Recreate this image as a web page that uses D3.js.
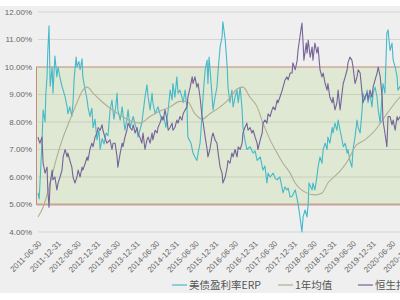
<!DOCTYPE html>
<html>
<head>
<meta charset="utf-8">
<script src="https://cdn.jsdelivr.net/npm/d3@7"></script>
<style>
  body { margin: 0; background: #fff; }
  svg { display: block; }
</style>
</head>
<body>
<div id="chart"></div>
<script>
// values: [decimal year, percent]
const erpSeries = [
  [2011.50,5.42],[2011.53,5.2],[2011.55,5.78],[2011.60,7.2],[2011.63,8.44],[2011.68,8.0],[2011.70,9.05],[2011.73,9.64],[2011.75,10.6],[2011.78,11.5],
  [2011.81,9.3],[2011.86,10.0],[2011.88,9.05],[2011.93,10.4],[2011.98,9.64],[2012.01,10.0],[2012.06,9.6],[2012.11,9.3],[2012.14,9.16],[2012.19,8.9],
  [2012.24,8.55],[2012.26,8.3],[2012.31,8.55],[2012.36,8.2],[2012.39,8.7],[2012.42,9.6],[2012.47,10.36],[2012.49,10.0],[2012.54,10.2],[2012.57,9.9],
  [2012.62,10.3],[2012.64,9.64],[2012.70,9.16],[2012.75,8.8],[2012.77,8.55],[2012.82,8.2],[2012.87,8.5],[2012.90,7.8],[2012.95,8.1],[2013.00,7.35],
  [2013.05,7.7],[2013.08,7.0],[2013.13,7.4],[2013.18,7.2],[2013.23,7.6],[2013.28,7.5],[2013.33,8.4],[2013.38,8.8],[2013.43,8.1],[2013.48,8.6],
  [2013.51,9.05],[2013.53,8.44],[2013.59,8.07],[2013.64,8.55],[2013.66,8.3],[2013.71,7.7],[2013.76,8.1],[2013.79,8.44],[2013.84,7.8],[2013.92,8.2],
  [2013.97,7.9],[2014.02,7.7],[2014.04,7.45],[2014.09,7.7],[2014.14,7.96],[2014.22,8.9],[2014.27,9.35],[2014.30,8.9],[2014.35,8.44],[2014.40,9.05],
  [2014.42,8.7],[2014.48,8.3],[2014.55,8.55],[2014.60,8.3],[2014.65,8.07],[2014.70,8.2],[2014.75,7.8],[2014.81,8.44],[2014.86,9.16],[2014.91,8.8],
  [2014.93,9.4],[2014.98,8.9],[2015.03,9.64],[2015.06,9.05],[2015.11,9.16],[2015.16,8.9],[2015.19,8.7],[2015.24,9.16],[2015.29,8.44],[2015.31,7.45],
  [2015.39,7.23],[2015.44,6.87],[2015.49,6.73],[2015.54,6.6],[2015.57,6.87],[2015.62,7.23],[2015.64,7.6],[2015.67,8.3],[2015.70,9.0],[2015.75,9.9],
  [2015.80,10.25],[2015.82,9.4],[2015.85,10.36],[2015.92,9.05],[2015.95,8.44],[2016.00,8.9],[2016.05,9.27],[2016.08,9.9],[2016.13,10.73],[2016.18,11.1],
  [2016.20,11.64],[2016.26,10.98],[2016.31,10.0],[2016.33,9.27],[2016.38,8.7],[2016.43,9.16],[2016.46,8.55],[2016.51,8.9],[2016.56,9.16],[2016.59,8.7],
  [2016.64,9.27],[2016.69,8.44],[2016.71,7.8],[2016.76,7.35],[2016.81,7.0],[2016.89,7.1],[2016.97,6.87],[2017.02,6.95],[2017.07,6.6],[2017.15,6.73],
  [2017.22,6.25],[2017.27,6.4],[2017.32,5.78],[2017.35,6.14],[2017.40,6.0],[2017.48,6.14],[2017.53,5.95],[2017.58,5.9],[2017.65,6.0],[2017.73,5.42],
  [2017.78,5.64],[2017.83,5.53],[2017.86,5.6],[2017.91,5.27],[2017.96,5.3],[2018.04,5.53],[2018.11,5.05],[2018.16,4.55],[2018.21,4.0],[2018.24,4.55],
  [2018.29,4.8],[2018.34,4.55],[2018.37,5.05],[2018.39,5.78],[2018.47,5.53],[2018.49,5.78],[2018.54,5.53],[2018.59,6.0],[2018.62,6.36],[2018.67,6.73],
  [2018.72,6.5],[2018.75,7.0],[2018.80,7.23],[2018.85,7.0],[2018.87,7.45],[2018.92,7.23],[2018.98,7.8],[2019.00,7.6],[2019.05,7.96],[2019.10,7.7],
  [2019.13,8.07],[2019.18,7.7],[2019.23,7.35],[2019.26,7.1],[2019.31,7.23],[2019.36,6.87],[2019.38,7.0],[2019.43,6.6],[2019.48,6.36],[2019.51,7.0],
  [2019.56,7.45],[2019.61,8.07],[2019.64,7.8],[2019.69,7.6],[2019.74,8.44],[2019.76,9.05],[2019.81,8.8],[2019.87,9.16],[2019.89,8.7],[2019.94,9.05],
  [2019.99,8.55],[2020.02,9.05],[2020.07,9.27],[2020.12,8.9],[2020.15,8.44],[2020.20,7.96],[2020.25,9.05],[2020.27,9.4],[2020.32,9.05],[2020.37,11.24],
  [2020.40,11.35],[2020.45,10.6],[2020.50,10.87],[2020.53,10.25],[2020.58,10.0],[2020.63,9.64],[2020.65,9.16],[2020.71,9.3],[2020.76,9.0]
];

const hsiSeries = [
  [2011.50,7.45],[2011.53,7.3],[2011.55,7.23],[2011.60,7.45],[2011.63,6.5],[2011.68,6.14],[2011.73,6.36],[2011.75,5.53],[2011.78,4.9],[2011.81,5.78],
  [2011.86,6.25],[2011.88,5.9],[2011.93,6.0],[2011.98,5.53],[2012.01,5.78],[2012.06,6.0],[2012.11,6.25],[2012.14,6.73],[2012.19,7.0],[2012.24,6.73],
  [2012.26,6.87],[2012.31,6.6],[2012.36,6.36],[2012.39,6.0],[2012.44,5.78],[2012.49,6.0],[2012.52,6.25],[2012.57,6.0],[2012.62,6.36],[2012.64,6.25],
  [2012.70,6.5],[2012.75,6.73],[2012.77,6.6],[2012.82,7.0],[2012.87,7.23],[2012.90,7.1],[2012.95,7.45],[2013.00,7.6],[2013.03,7.8],[2013.08,7.7],
  [2013.13,7.9],[2013.15,7.7],[2013.20,7.45],[2013.25,7.23],[2013.33,7.35],[2013.38,7.0],[2013.41,7.23],[2013.46,7.23],[2013.51,6.73],[2013.53,6.36],
  [2013.59,6.87],[2013.64,7.23],[2013.66,7.1],[2013.71,7.45],[2013.76,7.7],[2013.79,7.96],[2013.84,7.8],[2013.89,7.7],[2013.92,7.9],[2013.97,7.6],
  [2014.02,7.8],[2014.04,7.6],[2014.09,7.45],[2014.14,7.23],[2014.17,7.6],[2014.22,7.0],[2014.27,7.35],[2014.30,7.45],[2014.35,7.23],[2014.40,7.6],
  [2014.42,7.35],[2014.48,7.7],[2014.53,7.6],[2014.55,7.8],[2014.60,7.96],[2014.65,8.2],[2014.68,8.07],[2014.73,8.44],[2014.78,8.07],[2014.81,7.7],
  [2014.86,7.8],[2014.91,7.96],[2014.93,7.7],[2014.98,7.8],[2015.03,8.07],[2015.06,7.96],[2015.11,8.2],[2015.16,8.07],[2015.19,8.3],[2015.24,8.44],
  [2015.29,8.55],[2015.31,8.9],[2015.37,9.27],[2015.42,9.64],[2015.44,9.4],[2015.49,9.64],[2015.54,9.27],[2015.57,9.4],[2015.62,8.9],[2015.67,8.2],
  [2015.70,7.96],[2015.75,7.45],[2015.80,7.0],[2015.82,6.73],[2015.87,7.0],[2015.92,7.45],[2015.95,7.6],[2016.00,7.35],[2016.05,7.23],[2016.08,6.87],
  [2016.13,6.36],[2016.18,6.14],[2016.20,5.78],[2016.26,6.0],[2016.31,6.36],[2016.33,6.6],[2016.38,6.5],[2016.43,6.87],[2016.46,6.73],[2016.51,7.0],
  [2016.56,6.73],[2016.59,7.1],[2016.64,7.0],[2016.69,7.23],[2016.71,7.6],[2016.76,7.8],[2016.81,7.96],[2016.84,7.7],[2016.89,7.8],[2016.94,7.6],
  [2016.97,7.7],[2017.02,7.45],[2017.07,7.23],[2017.09,7.0],[2017.15,7.35],[2017.20,7.6],[2017.22,7.96],[2017.27,8.07],[2017.32,7.96],[2017.35,8.3],
  [2017.40,8.2],[2017.45,8.44],[2017.48,8.55],[2017.53,8.44],[2017.58,8.8],[2017.60,8.7],[2017.65,8.9],[2017.71,9.16],[2017.73,9.27],[2017.78,9.53],
  [2017.83,9.64],[2017.86,9.53],[2017.91,9.78],[2017.96,9.78],[2017.98,10.15],[2018.04,9.9],[2018.09,10.25],[2018.11,10.6],[2018.16,11.1],[2018.21,11.6],
  [2018.24,10.87],[2018.26,10.25],[2018.32,10.87],[2018.34,10.5],[2018.37,10.98],[2018.42,10.36],[2018.47,10.73],[2018.49,10.25],[2018.54,10.87],[2018.59,10.5],
  [2018.62,10.73],[2018.67,9.9],[2018.72,9.64],[2018.75,9.78],[2018.80,9.4],[2018.85,9.16],[2018.87,9.4],[2018.92,8.9],[2018.98,8.7],[2019.00,8.9],
  [2019.05,8.44],[2019.10,8.7],[2019.13,9.16],[2019.18,8.44],[2019.23,9.05],[2019.26,9.4],[2019.31,9.64],[2019.36,9.9],[2019.38,10.15],[2019.43,10.36],
  [2019.48,10.25],[2019.51,10.0],[2019.56,9.4],[2019.61,9.64],[2019.64,9.9],[2019.69,9.78],[2019.74,9.05],[2019.76,8.7],[2019.81,8.9],[2019.87,9.05],
  [2019.89,8.8],[2019.94,9.16],[2019.99,8.9],[2020.02,9.27],[2020.07,9.53],[2020.12,9.78],[2020.15,10.0],[2020.20,9.64],[2020.25,8.9],[2020.27,8.07],
  [2020.32,7.6],[2020.37,7.1],[2020.40,8.2],[2020.45,8.2],[2020.50,7.9],[2020.53,8.07],[2020.58,7.7],[2020.63,8.2],[2020.65,8.07],[2020.71,8.2],[2020.76,8.1]
];

const meanSeries = [
  [2011.50,4.55],[2011.63,4.9],[2011.81,5.78],[2011.98,6.73],[2012.14,7.45],[2012.31,8.07],[2012.49,8.7],[2012.64,9.16],[2012.75,9.27],[2012.90,9.05],
  [2013.08,8.8],[2013.33,8.5],[2013.59,8.25],[2013.92,8.0],[2014.09,7.96],[2014.35,8.2],[2014.60,8.4],[2014.86,8.55],[2015.11,8.75],[2015.29,8.75],
  [2015.49,8.3],[2015.67,8.1],[2015.87,8.3],[2016.13,8.55],[2016.38,8.87],[2016.56,9.2],[2016.71,9.27],[2016.89,8.9],[2017.07,8.55],[2017.22,7.96],
  [2017.40,7.35],[2017.58,6.87],[2017.73,6.5],[2017.91,6.14],[2018.04,5.78],[2018.29,5.45],[2018.54,5.35],[2018.72,5.42],[2018.87,5.78],[2019.13,6.14],
  [2019.38,6.6],[2019.56,7.1],[2019.81,7.35],[2020.07,7.7],[2020.32,8.2],[2020.58,8.7],[2020.76,9.0]
];

const band = [5, 10];
const yTicks = [4, 5, 6, 7, 8, 9, 10, 11, 12];
const xTickLabels = [
  "2011-06-30","2011-12-31","2012-06-30","2012-12-31","2013-06-30","2013-12-31","2014-06-30",
  "2014-12-31","2015-06-30","2015-12-31","2016-06-30","2016-12-31","2017-06-30","2017-12-31",
  "2018-06-30","2018-12-31","2019-06-30","2019-12-31","2020-06-30","2020-12-31"
];
const legendNames = ["美债盈利率ERP", "1年均值", "恒生指数ERP"];
const colors = ["#45b9c9", "#b0ad92", "#75639a"];

const width = 400, height = 300;
const svg = d3.select("#chart").append("svg")
  .attr("width", width)
  .attr("height", height)
  .style("font-family", "'Liberation Sans', Arial, sans-serif");

svg.append("rect")
  .attr("x", 0).attr("y", 6)
  .attr("width", width).attr("height", 287)
  .attr("fill", "#efefef");

const x = d3.scaleLinear().domain([2011.5, 2020.5]).range([38, 392]);
const y = d3.scaleLinear().domain([4, 12]).range([232, 12]);

// green band 5% - 10%
svg.append("rect")
  .attr("x", x(2011.5) - 1.5)
  .attr("y", y(band[1]))
  .attr("width", width)
  .attr("height", y(band[0]) - y(band[1]))
  .attr("fill", "#dfe8d2")
  .attr("stroke", "#c48a7c")
  .attr("stroke-width", 1);
svg.append("line")
  .attr("x1", x(2011.5) - 1.5).attr("x2", width)
  .attr("y1", y(band[0])).attr("y2", y(band[0]))
  .attr("stroke", "#c9a197").attr("stroke-width", 2);

// grid
svg.append("g")
  .selectAll("line")
  .data(yTicks.filter(d => d !== band[0] && d !== band[1]))
  .join("line")
  .attr("x1", x(2011.5)).attr("x2", width)
  .attr("y1", d => y(d)).attr("y2", d => y(d))
  .attr("stroke", "rgba(0,0,0,0.1)")
  .attr("stroke-width", 1);

// y labels
svg.append("g")
  .selectAll("text")
  .data(yTicks)
  .join("text")
  .attr("x", 32)
  .attr("y", d => y(d))
  .attr("dy", "0.35em")
  .attr("text-anchor", "end")
  .attr("fill", "#666")
  .style("font-size", "8px")
  .text(d => d.toFixed(2) + "%");

// x labels
const tickYear = s => +s.slice(0, 4) + (s.slice(5, 7) === "06" ? 0.5 : 1);
svg.append("g")
  .selectAll("text")
  .data(xTickLabels)
  .join("text")
  .attr("transform", d => `translate(${x(tickYear(d)) + 2},${242}) rotate(-45)`)
  .attr("dy", "0.35em")
  .attr("text-anchor", "end")
  .attr("fill", "#666")
  .style("font-size", "8px")
  .text(d => d);

// lines
const line = d3.line().x(d => x(d[0])).y(d => y(d[1]));
const smooth = d3.line().x(d => x(d[0])).y(d => y(d[1])).curve(d3.curveMonotoneX);

svg.append("path").datum(erpSeries)
  .attr("d", line).attr("fill", "none")
  .attr("stroke", colors[0]).attr("stroke-width", 1.1).attr("stroke-linejoin", "round");
svg.append("path").datum(meanSeries)
  .attr("d", smooth).attr("fill", "none")
  .attr("stroke", colors[1]).attr("stroke-width", 1.1);
svg.append("path").datum(hsiSeries)
  .attr("d", line).attr("fill", "none")
  .attr("stroke", colors[2]).attr("stroke-width", 1.1).attr("stroke-linejoin", "round");

// legend
const legendX = [172, 278, 358];
const legend = svg.append("g").attr("transform", "translate(0,285)");
legendNames.forEach((name, i) => {
  legend.append("line")
    .attr("x1", legendX[i]).attr("x2", legendX[i] + 15)
    .attr("y1", 0).attr("y2", 0)
    .attr("stroke", colors[i]).attr("stroke-width", 1.2);
  legend.append("text")
    .attr("x", legendX[i] + 17)
    .attr("dy", "0.35em")
    .attr("fill", "#555")
    .style("font-family", "'Noto Sans CJK SC', sans-serif")
    .style("font-size", "10.5px")
    .text(name);
});
</script>
</body>
</html>
